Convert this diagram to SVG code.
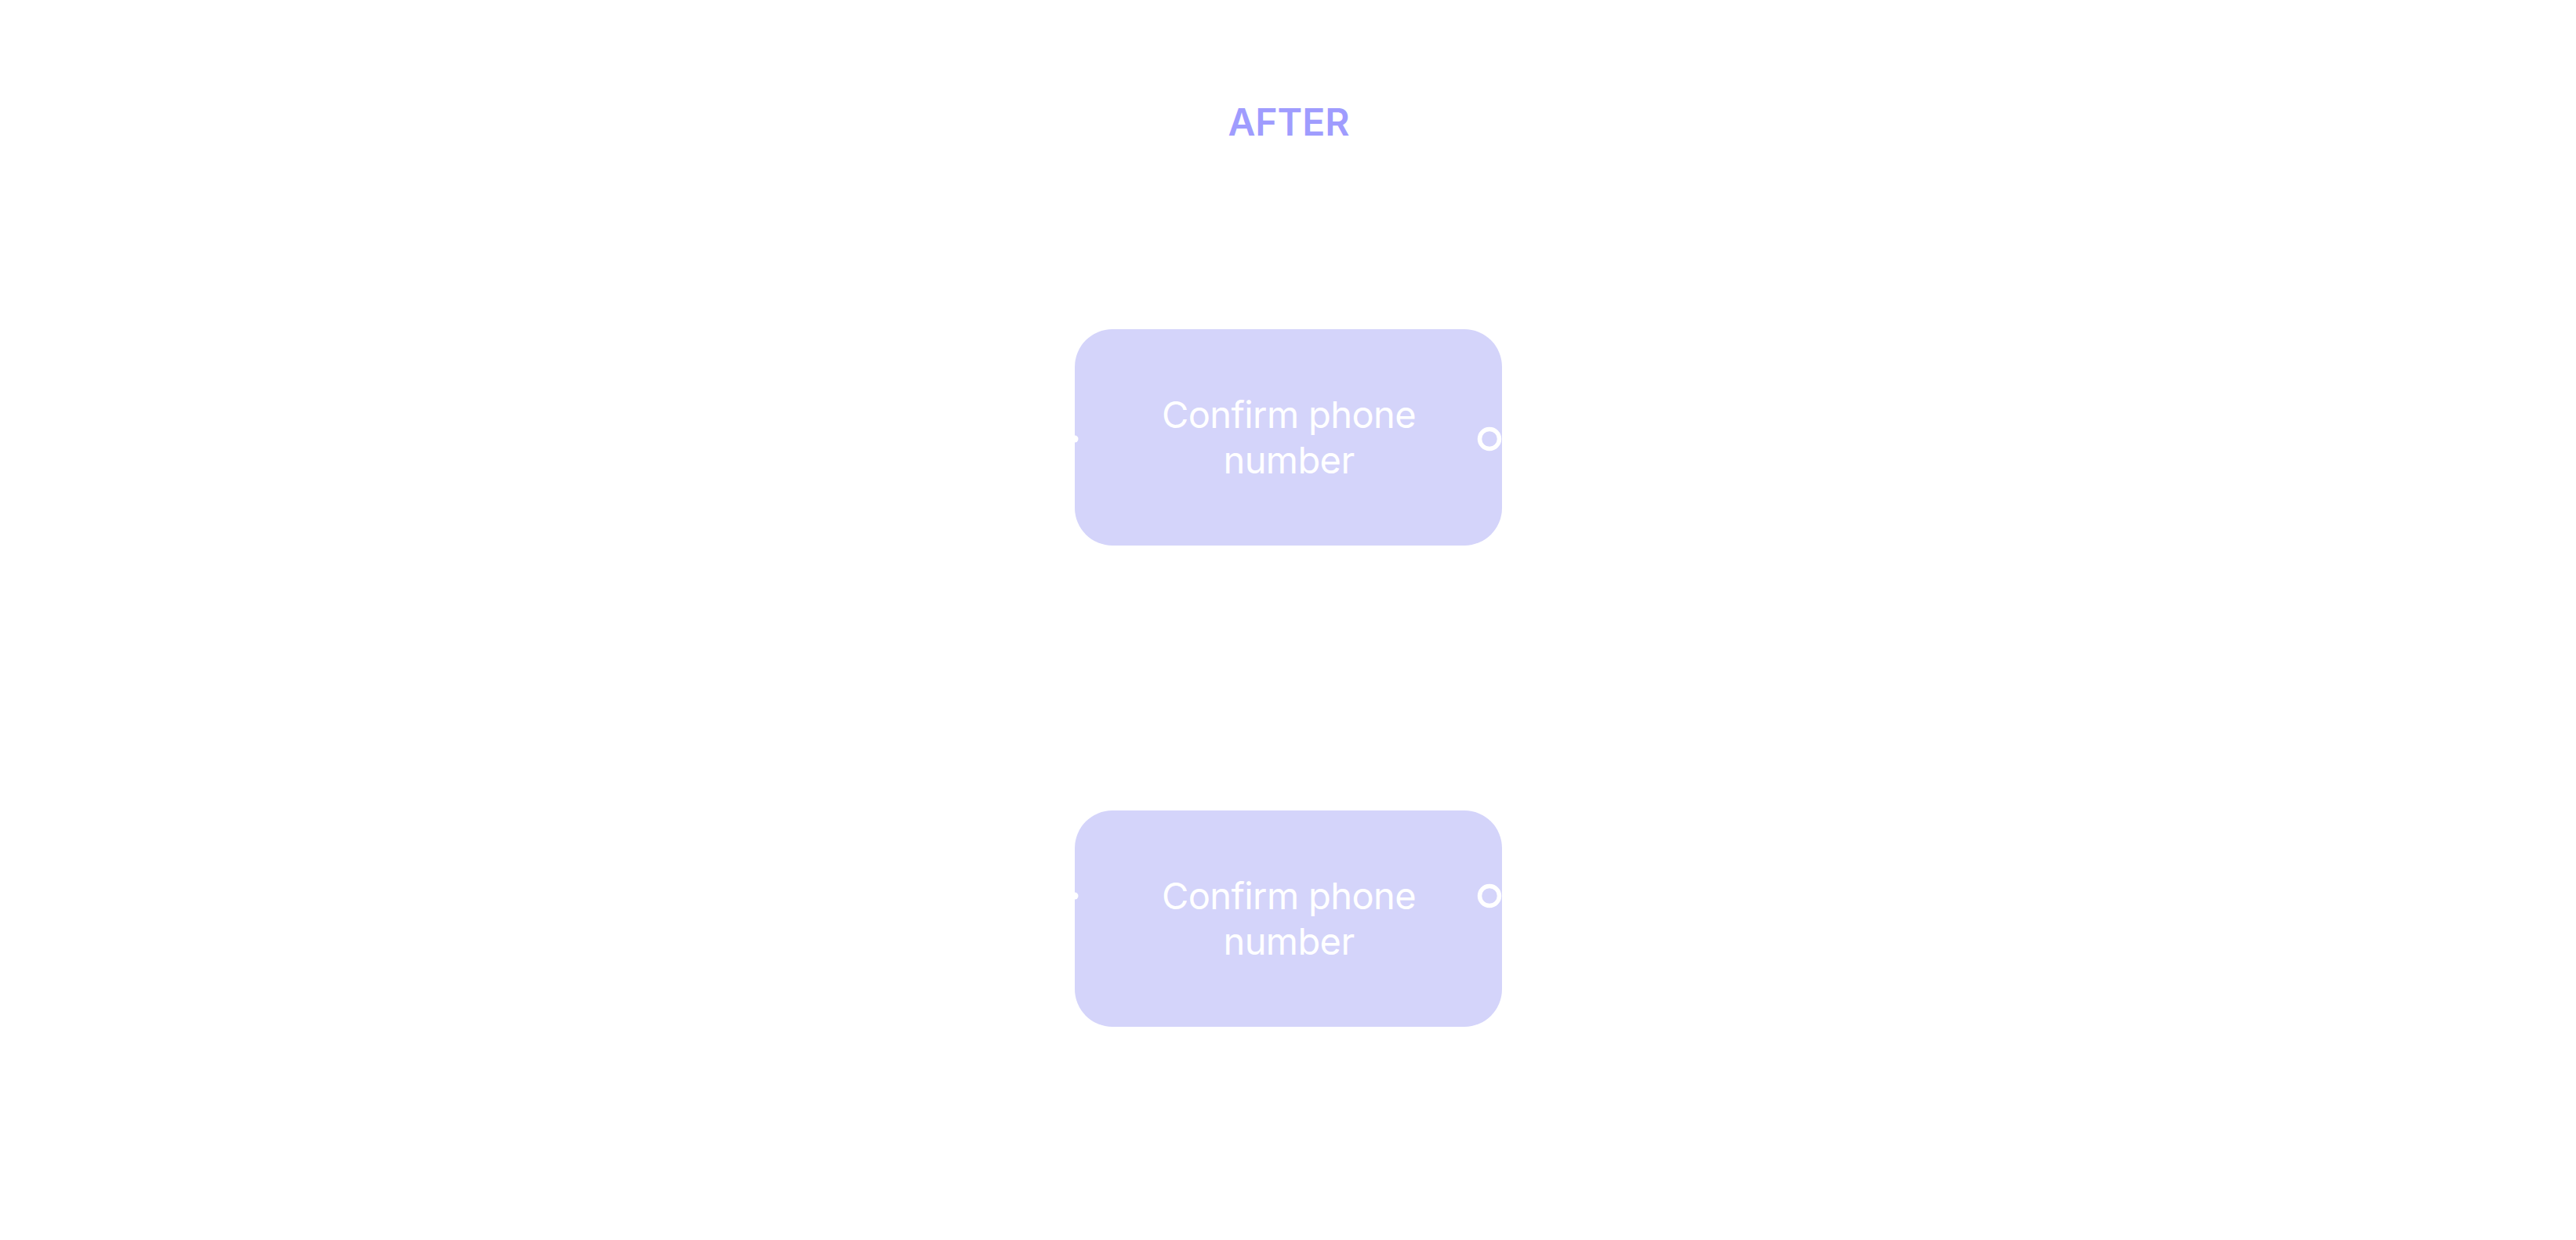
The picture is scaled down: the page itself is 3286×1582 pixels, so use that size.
<svg xmlns="http://www.w3.org/2000/svg" width="3286" height="1582" viewBox="0 0 3286 1582">
<style>
.box{fill:#d4d4fa}
.lbl{font-family:Inter,"Noto Sans","Liberation Sans",sans-serif;font-size:47px;font-weight:400;fill:#ffffff;text-anchor:middle;letter-spacing:-0.6px}
.title{font-family:Inter,"Noto Sans","Liberation Sans",sans-serif;font-size:48px;font-weight:600;fill:#9f9cfe;text-anchor:middle}
.port{fill:#d4d4fa;stroke:#ffffff;stroke-width:5.5}
.nub{fill:#ffffff}
</style>
<rect width="3286" height="1582" fill="#ffffff"/>
<text class="title" x="1644" y="173">AFTER</text>
<g id="connectors"></g>
<g id="node-1">
<rect class="box" x="1371" y="420" width="545" height="276" rx="48" ry="48"/>
<text class="lbl" x="1644" y="546">Confirm phone</text>
<text class="lbl" x="1644" y="604">number</text>
<circle class="nub" cx="1371" cy="560" r="4.5"/>
<circle class="port" cx="1900" cy="560" r="12.5"/>
</g>
<g id="node-2">
<rect class="box" x="1371" y="1034" width="545" height="276" rx="48" ry="48"/>
<text class="lbl" x="1644" y="1160">Confirm phone</text>
<text class="lbl" x="1644" y="1218">number</text>
<circle class="nub" cx="1371" cy="1143" r="4.5"/>
<circle class="port" cx="1900" cy="1143" r="12.5"/>
</g>
</svg>
